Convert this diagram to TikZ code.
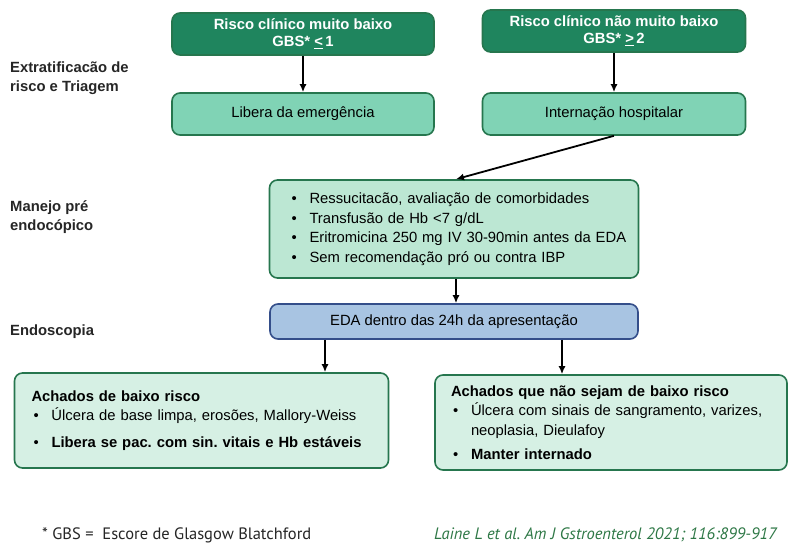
\documentclass[tikz,border=0pt]{standalone}
\usepackage{fontspec}
\setmainfont{Liberation Sans}
\newfontfamily\notefont{PT Sans}
\usetikzlibrary{arrows.meta}
\frenchspacing

\definecolor{headfill}{RGB}{31,133,94}
\definecolor{boxline}{RGB}{38,118,78}
\definecolor{midfill}{RGB}{128,211,181}
\definecolor{prefill}{RGB}{188,231,211}
\definecolor{endfill}{RGB}{214,240,228}
\definecolor{edafill}{RGB}{168,196,226}
\definecolor{edaline}{RGB}{52,78,138}
\definecolor{citegreen}{RGB}{46,120,70}

\tikzset{
  base/.style={rounded corners=8pt, line width=1.6pt, draw=boxline, align=center,
               font=\fontsize{14.8}{17}\selectfont},
  headbox/.style={base, fill=headfill, text=white,
                  font=\fontsize{14.8}{17}\bfseries\selectfont},
  midbox/.style={base, fill=midfill},
  prebox/.style={base, fill=prefill, align=left, font=\fontsize{14.8}{19.5}\selectfont},
  endbox/.style={base, fill=endfill, align=left, font=\fontsize{14.8}{19.5}\selectfont},
  edabox/.style={base, fill=edafill, draw=edaline},
  stage/.style={anchor=west, align=left, text=black!85,
                font=\fontsize{14.8}{19}\bfseries\selectfont, inner sep=0pt},
  arr/.style={line width=1.8pt, -{Latex[length=8pt,width=7pt]}}
}
\newcommand{\bitem}{\makebox[20pt][l]{\hspace{2pt}•}}

\begin{document}
\begin{tikzpicture}[x=1pt,y=-1pt]
  \useasboundingbox[fill=white] (0,0) rectangle (792,545);

  % stratification row
  \node[headbox, minimum width=262pt, minimum height=42pt] (low) at (303,34)
    {Risco clínico muito baixo\\GBS* \underline{<}\,1};
  \node[headbox, minimum width=263pt, minimum height=42pt] (high) at (614,31)
    {Risco clínico não muito baixo\\GBS* \underline{>}\,2};
  \node[midbox, minimum width=262pt, minimum height=42pt] (lib) at (303,114)
    {Libera da emergência};
  \node[midbox, minimum width=263pt, minimum height=42pt] (int) at (614,114)
    {Internação hospitalar};

  % pre-endoscopic management
  \node[prebox, minimum width=369pt, minimum height=98pt, text width=345pt,
        inner xsep=12pt] (pre) at (454,229)
    {\hspace*{8pt}\bitem Ressucitacão, avaliação de comorbidades\\
     \hspace*{8pt}\bitem Transfusão de Hb <7 g/dL\\
     \hspace*{8pt}\bitem Eritromicina 250 mg IV 30-90min antes da EDA\\
     \hspace*{8pt}\bitem Sem recomendação pró ou contra IBP};

  % endoscopy
  \node[edabox, minimum width=368pt, minimum height=35pt] (eda) at (454,321.5)
    {EDA dentro das 24h da apresentação};

  \node[endbox, minimum width=373pt, minimum height=95pt, text width=340pt,
        inner xsep=17pt] (lowrisk) at (201.5,420.5)
    {\textbf{Achados de baixo risco}\\
     \bitem Úlcera de base limpa, erosões, Mallory-Weiss\\[7pt]
     \bitem\textbf{Libera se pac. com sin. vitais e Hb estáveis}};
  \node[endbox, minimum width=350pt, minimum height=95pt, text width=320pt,
        inner xsep=16pt] (highrisk) at (611,422.5)
    {\textbf{Achados que não sejam de baixo risco}\\
     \bitem Úlcera com sinais de sangramento, varizes,\\
     \makebox[20pt]{}neoplasia, Dieulafoy\\[5pt]
     \bitem\textbf{Manter internado}};

  % stage labels
  \node[stage] (s1) at (10,78) {Extratificacão de\\risco e Triagem};
  \node[stage] (s2) at (10,217) {Manejo pré\\endocópico};
  \node[stage] (s3) at (10,332) {Endoscopia};

  % connectors
  \coordinate (lowdrop) at (325,0);
  \coordinate (highdrop) at (562,0);
  \draw[arr] (low.south) -- (lib.north);
  \draw[arr] (high.south) -- (int.north);
  \draw[arr] (int.south) -- ([xshift=2pt]pre.north);
  \draw[arr] ([xshift=2pt]pre.south) -- ([xshift=2pt]eda.north);
  \draw[arr] (eda.south -| lowdrop) -- (lowdrop |- lowrisk.north);
  \draw[arr] (eda.south -| highdrop) -- (highdrop |- highrisk.north);

  % footnotes
  \node[anchor=west, inner sep=0pt, font=\notefont\fontsize{16.5}{18}\selectfont,
        text=black!85] (gbs) at (42,535) {* GBS = \ Escore de Glasgow Blatchford};
  \node[anchor=east, inner sep=0pt, font=\notefont\fontsize{16.5}{18}\itshape\selectfont,
        text=citegreen] (ref) at (777,535)
    {Laine L et al. Am J Gstroenterol 2021; 116:899-917};
\end{tikzpicture}
\end{document}
